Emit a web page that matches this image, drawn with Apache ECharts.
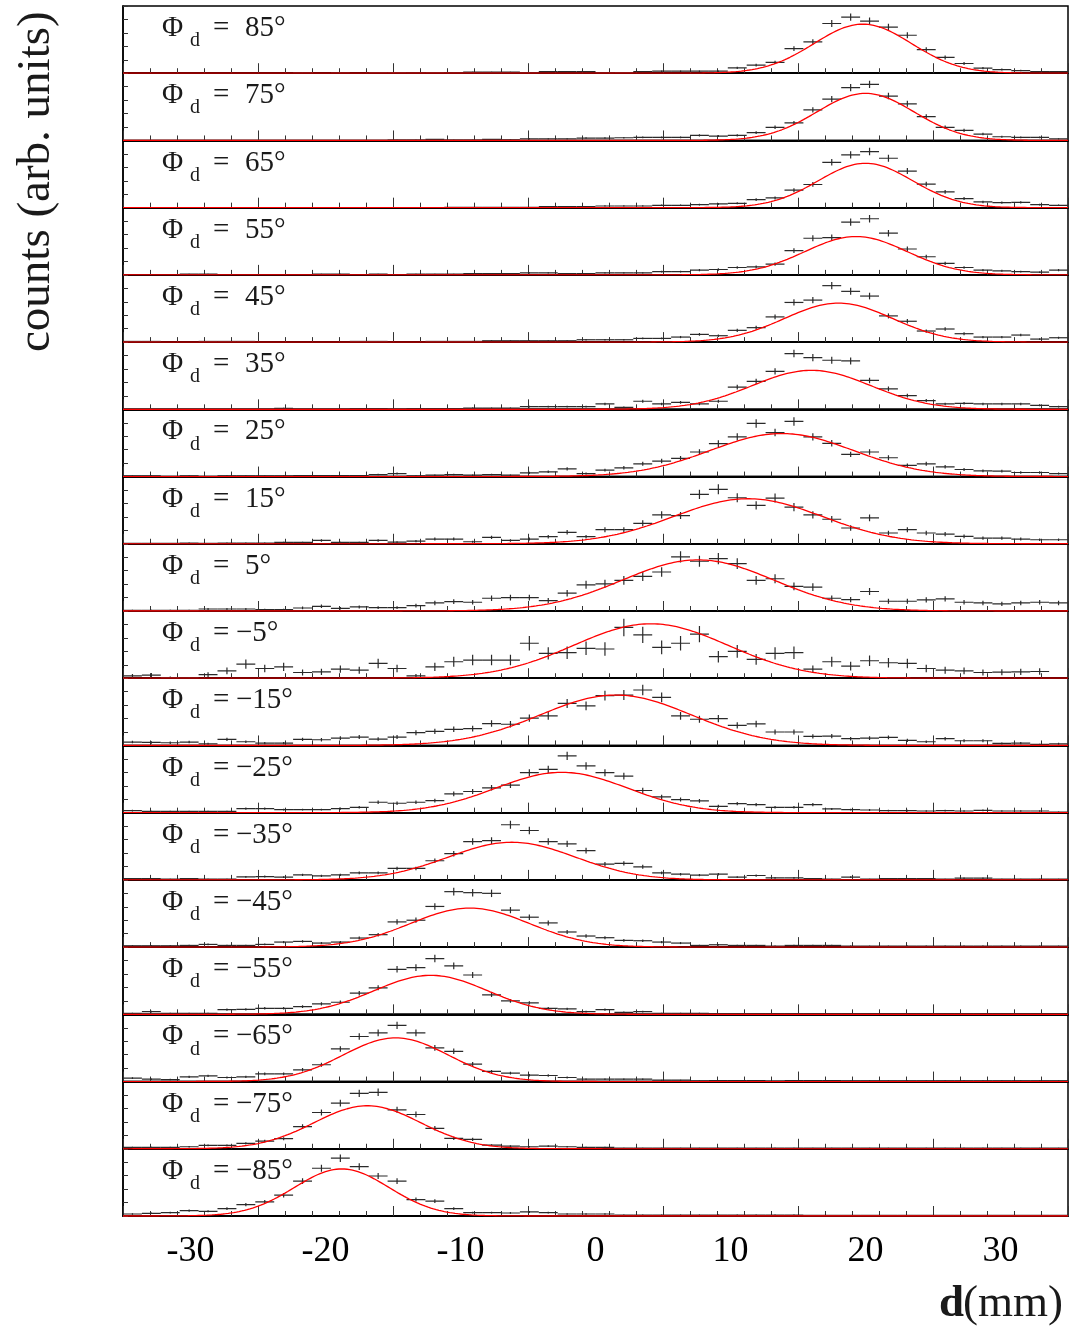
<!DOCTYPE html>
<html>
<head>
<meta charset="utf-8">
<script src="https://cdn.jsdelivr.net/npm/echarts@6/dist/echarts.min.js"></script>
<style>
html,body{margin:0;padding:0;background:#fff}
#chart{width:1073px;height:1337px}
</style>
</head>
<body>
<div id="chart"></div>
<script>
// Histogram binning along d (mm): 50 bins over [-35, 35]
const dMin = -35, dMax = 35, binWidth = 1.4, nBins = 50;
const binCenters = Array.from({length: nBins}, (_, i) => +(dMin + binWidth * (i + 0.5)).toFixed(2));
const xTicks = [-30, -20, -10, 0, 10, 20, 30];

// Detector angle of each panel (top to bottom)
const phiLabels = [85, 75, 65, 55, 45, 35, 25, 15, 5, -5, -15, -25, -35, -45, -55, -65, -75, -85];

// Counts per bin (arbitrary units, panel full scale = 100)
const phi85 = [0,0,0,0,0,0,0,0,0,0.5, 0,0.5,0,1,1,0.5,1,0.5,1.5,1.5, 1.5,0.5,2.5,2.5,2.5,0.5,1,2.5,3,3, 3,3,8,12,16,36.5,46.5,74,83.5,77.5, 68.5,56.5,35,23.5,14.5,7.5,5.5,4,2.5,2.5];
const phi75 = [0,0,0,0,0,0,0,0,0,0, 0,0,0,0,0.5,0.5,1.5,0.5,0.5,1.5, 1,2.5,2.5,2.5,3.5,3.5,4,4.5,4.5,4.5, 7.5,6.5,7.5,11.5,19.5,26,45.5,61.5,78.5,83.5, 66,54.5,35.5,19.5,15,9.5,5.5,4.5,4.5,2.5];
const phi65 = [0,0,0,0,0,0,0,0,0,0, 0,0,0,0,0,0,0,0.5,0.5,0.5, 0.5,0.5,1.5,1.5,1.5,2.5,2.5,2.5,3.5,3.5, 4.5,5.5,6.5,12,14.5,26,34.5,67.5,78.5,83.5, 73.5,54.5,35,23.5,13.5,8.5,7.5,8,4.5,3.5];
const phi55 = [0,0,0,1,1,0,0,0,0,0, 1,1,0,1,0,1,1,1,2,2, 2,3,3,2,2,3,3,3,5,5, 7,8,11,12,16,36,54.5,55.5,78.5,83.5, 62,38.5,27,17,11,7,6,5,4,7];
const phi45 = [1,1,0,0,1,1,1,0,0,0, 0,0,1,1,0,0,1,1,1,2, 2,2,2,2,3.5,3.5,3.5,5.5,5.5,7.5, 11.5,9.5,17.5,21.5,37.5,59,62.5,84,75.5,68.5, 39,31,16.5,19.5,12.5,7.5,7.5,10.5,4.5,6.5];
const phi35 = [0,0,0,0,0,0,0,0,1.5,0, 0,0,1,1,0,1,1,1,2,2, 2,4,4,4,4,8,3,12,8,10.5, 8,12,33,41.5,56.5,83,77,73,72,43, 30.5,20.5,13,8,9,8,8,8,6,4];
const phi25 = [1,1,0,1,0,1,1,1,1,1.5, 1.5,1.5,1.5,3,4.5,1,2,3,2,3, 2,5.5,7,11.5,4.5,9.5,13,19,23,27, 36.5,49,59,79,65.5,82,59,49.5,33,36.5, 28,16.5,19,14.5,10.5,8.5,8,6,6,4.5];
const phi15 = [0.5,0.5,0.5,1,0.5,1,1,1,2,2, 5,2,2,5,2.5,4,7,7,3,9.5, 5,7,10.5,17,10.5,21,21,30.5,43,42, 73.5,81,68.5,57,68,54.5,43,36.5,23.5,38.5, 16,21,16,14.5,11,8.5,8.5,7,6,6];
const phi5 = [1,1,1,1,3,3,3,2,2,4.5, 7,4,6,5,5,8,12,14,13,19, 20,20,15.5,26.5,39,40.5,45.5,51.5,58,80.5, 74,78,70.5,45.5,48,36.5,35.5,19,17,29, 14.5,14.5,16.5,18,13,12,10.5,12,13,12];
const phiM5 = [3.5,4.5,1,0.5,5.5,11,21,14.5,17,8.5, 9.5,13.5,12,22,14.5,3.5,17,24.5,27,27, 27,52,37,38,44.5,43.5,75.5,64.5,46,52, 65.5,32,40,28,37,38,13.5,24.5,18,26, 23,22,14.5,12,11,8.5,9,9.5,10,0];
const phiM15 = [5,4.5,4,5,2.5,9,5.5,3.5,3.5,9, 8.5,11,12.5,9.5,12.5,19,21,24,25,32.5, 31.5,40.5,44,62.5,59,74,75,82.5,71.5,44, 39,40,30,32,20,20,13.5,14,10,11, 12,7.5,5.5,10,7,7,3,3.5,1.5,2.5];
const phiM25 = [3,2,2,2,2,2,6,6,4.5,4.5, 4.5,6,8,15.5,14,15.5,18,28,31.5,37, 41,59.5,64.5,84.5,69.5,59.5,54.5,33,23.5,19.5, 17.5,9.5,13.5,12,8,8,12,5.5,4.5,4, 3,3,2.5,3,2.5,3.5,2.5,2.5,2.5,1];
const phiM35 = [2,2,1,2,1,1,4.5,5,4,7.5, 6,7.5,10.5,10.5,17,17,28.5,39,57,58.5, 82,73.5,57,53.5,43.5,23.5,24.5,19.5,10.5,8.5, 7,8.5,4,6.5,3,3,2,1,4,1, 2,2,2,1,2.5,2.5,1,1,1,1];
const phiM45 = [2,2,2,2.5,4,2.5,2.5,4,7.5,8.5, 6,7.5,13.5,18.5,37.5,40,60.5,82.5,81,80, 55,44.5,36,22.5,16.5,14,10,9.5,7.5,6, 2.5,3.5,2.5,2.5,1.5,2.5,2.5,2.5,1.5,1.5, 1.5,1.5,1.5,1.5,1.5,1.5,1.5,1.5,1.5,1.5];
const phiM55 = [1.5,4,1.5,1.5,1.5,7,7.5,9,9,11.5, 15.5,18,31.5,39.5,67,69.5,83,72,58.5,29, 20,17,9,8,4,7,3,4,1.5,1.5, 1.5,1,1,1,1,1,1,1,1,1, 1,1,1,1,1,1,1,1,1,1];
const phiM65 = [5,3.5,3,7,8.5,6,7,11.5,11.5,17.5, 25,48.5,67,72.5,83.5,72.5,50,45,26,15, 12.5,9.5,9,6,3.5,3.5,3.5,3.5,2,2, 1,1.5,1.5,1.5,0.5,1.5,1.5,1.5,1,1, 1,1,1,1,1,1,1,1,1,1];
const phiM75 = [2,2,2,3,5,5,8,11.5,15,33, 54,68,82.5,84,58,51,30.5,15.5,14,5.5, 4,3,4,3,2,2,1,1,1,1, 1,1,1,1,1,1,1,1,1,1, 1,1,1,1,1,1,1,1,1,1];
const phiM85 = [3,4,5,8,7,11,17,21,31,52, 71,86,73.5,59.5,52,24.5,22,11,5,5, 4.5,6,5,3,3,3,1.5,1.5,1.5,1.5, 1.5,1.5,1.5,1.5,1.5,1.5,1,1,1,1, 1,1,1,1,1,1,1,1,1,1];

const panelCounts = [phi85, phi75, phi65, phi55, phi45, phi35, phi25, phi15, phi5,
                     phiM5, phiM15, phiM25, phiM35, phiM45, phiM55, phiM65, phiM75, phiM85];

// Statistical error scale per panel (error = scale * sqrt(count))
const errScale = [0.6, 0.6, 0.6, 0.6, 0.6, 0.62, 0.7, 0.82, 0.95, 1.5, 0.85, 0.68, 0.65, 0.62, 0.6, 0.6, 0.6, 0.6];

// Gaussian fit parameters per panel
const fitMean  = [19.8, 20.0, 20.0, 19.3, 18.0, 16.0, 13.8, 11.3, 7.6, 4.1, 1.5, -2.5, -6.2, -9.3, -12.2, -14.8, -16.9, -18.8];
const fitSigma = [3.6, 3.6, 3.5, 3.8, 4.0, 4.4, 5.3, 5.5, 5.6, 5.7, 5.6, 4.9, 4.7, 4.4, 4.2, 3.9, 3.95, 3.5];
const fitAmp   = [73, 70, 66, 57, 58, 58, 64, 67, 76, 81, 75, 60, 56, 58, 58, 65, 64, 70];

// ---- layout ----
const plotLeft = 123, plotRight = 1068, plotTop = 6, plotBottom = 1216;
const nPanels = phiLabels.length;
const panelH = (plotBottom - plotTop) / nPanels;
const serif = '"Liberation Serif", "DejaVu Serif", serif';
const ink = '#1a1a1a';

const grids = [], xAxes = [], yAxes = [], series = [], graphics = [];

function renderCross(params, api) {
  const x = api.value(0), y = api.value(1), e = api.value(2);
  const l = api.coord([x - binWidth / 2, y]);
  const r = api.coord([x + binWidth / 2, y]);
  const t = api.coord([x, y + e]);
  const b = api.coord([x, Math.max(0, y - e)]);
  const st = {stroke: '#2a2a2a', lineWidth: 1.2};
  return {type: 'group', children: [
    {type: 'line', shape: {x1: l[0], y1: l[1], x2: r[0], y2: r[1]}, style: st},
    {type: 'line', shape: {x1: t[0], y1: t[1], x2: b[0], y2: b[1]}, style: st}
  ]};
}

for (let p = 0; p < nPanels; p++) {
  const top = plotTop + p * panelH;
  const last = p === nPanels - 1;
  grids.push({left: plotLeft, width: plotRight - plotLeft, top: top, height: panelH,
              show: true, borderColor: '#000', borderWidth: 1.5, backgroundColor: 'transparent'});
  xAxes.push({
    type: 'value', gridIndex: p, min: dMin, max: dMax, interval: 10,
    axisLine: {show: true, onZero: false, lineStyle: {color: '#000', width: 2}},
    axisTick: {show: true, inside: true, length: 10, lineStyle: {color: '#333', width: 1}},
    minorTick: {show: true, splitNumber: 5, length: 5, lineStyle: {color: '#333', width: 1}},
    splitLine: {show: false},
    axisLabel: {show: last, color: '#000', fontFamily: serif, fontSize: 36, margin: 18,
                customValues: xTicks}
  });
  yAxes.push({
    type: 'value', gridIndex: p, min: 0, max: 100, interval: 20,
    axisLine: {show: true, onZero: false, lineStyle: {color: '#000', width: 1.5}},
    axisTick: {show: true, inside: true, length: 5, lineStyle: {color: '#333', width: 1}},
    splitLine: {show: false},
    axisLabel: {show: false}
  });

  const counts = panelCounts[p];
  const pts = [];
  counts.forEach((v, j) => {
    if (v > 0) pts.push([binCenters[j], v, errScale[p] * Math.sqrt(v)]);
  });
  series.push({
    type: 'custom', xAxisIndex: p, yAxisIndex: p, renderItem: renderCross,
    data: pts, clip: true, silent: true, z: 3
  });

  const curve = [];
  for (let k = 0; k <= 700; k++) {
    const x = dMin + k * 0.1;
    const z = (x - fitMean[p]) / fitSigma[p];
    curve.push([+x.toFixed(2), fitAmp[p] * Math.exp(-0.5 * z * z)]);
  }
  series.push({
    type: 'line', xAxisIndex: p, yAxisIndex: p, data: curve, showSymbol: false,
    symbol: 'none', lineStyle: {color: '#ff0000', width: 1.3}, clip: true, silent: true, z: 4
  });

  // panel label: Φ_d = value°
  const phi = phiLabels[p];
  const mainTop = top + 8;
  graphics.push({type: 'text', left: 162, top: mainTop, style: {text: 'Φ', font: '29px ' + serif, fill: ink}});
  graphics.push({type: 'text', left: 190, top: top + 25, style: {text: 'd', font: '20px ' + serif, fill: ink}});
  graphics.push({type: 'text', left: 213, top: mainTop, style: {text: '=', font: '29px ' + serif, fill: ink}});
  const valText = (phi < 0 ? '\u2212' + Math.abs(phi) : String(phi)) + '°';
  graphics.push({type: 'text', left: phi < 0 ? 236 : 245, top: mainTop, style: {text: valText, font: '29px ' + serif, fill: ink}});
}

// axis titles
graphics.push({type: 'text', x: 13, y: 352, rotation: Math.PI / 2,
               style: {text: 'counts (arb. units)', font: '47px ' + serif, fill: ink}});
graphics.push({type: 'text', left: 939, top: 1282, style: {text: 'd', font: 'bold 45px ' + serif, fill: ink}});
graphics.push({type: 'text', left: 963, top: 1282, style: {text: '(mm)', font: '45px ' + serif, fill: ink}});

const chart = echarts.init(document.getElementById('chart'), null, {renderer: 'canvas'});
chart.setOption({
  animation: false,
  backgroundColor: '#fff',
  grid: grids, xAxis: xAxes, yAxis: yAxes, series: series, graphic: graphics
});
</script>
</body>
</html>
